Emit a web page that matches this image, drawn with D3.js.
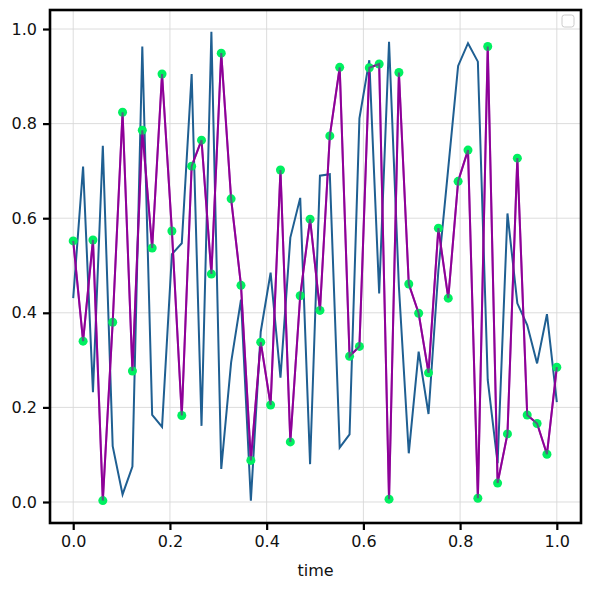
<!DOCTYPE html>
<html>
<head>
<meta charset="utf-8">
<script src="https://cdn.jsdelivr.net/npm/d3@7"></script>
<style>
  body { margin: 0; background: #fff; }
  svg { font-family: "DejaVu Sans", sans-serif; }
</style>
</head>
<body>
<div id="chart"></div>
<script>
// 50 samples on [0, 1]
var nPoints = 50;
var timeValues = d3.range(nPoints).map(function(i) { return i / (nPoints - 1); });

var blueValues = [0.431, 0.709, 0.232, 0.753, 0.118, 0.016, 0.075, 0.963, 0.184, 0.159,
                  0.524, 0.547, 0.905, 0.161, 0.994, 0.070, 0.295, 0.428, 0.003, 0.360,
                  0.485, 0.263, 0.559, 0.643, 0.080, 0.690, 0.693, 0.115, 0.143, 0.811,
                  0.934, 0.441, 0.973, 0.455, 0.103, 0.318, 0.186, 0.490, 0.706, 0.922,
                  0.970, 0.931, 0.258, 0.082, 0.610, 0.420, 0.374, 0.293, 0.397, 0.211];

var purpleValues = [0.552, 0.340, 0.554, 0.003, 0.380, 0.824, 0.277, 0.786, 0.537, 0.905,
                    0.573, 0.183, 0.710, 0.765, 0.482, 0.949, 0.641, 0.458, 0.088, 0.338,
                    0.205, 0.702, 0.127, 0.436, 0.598, 0.405, 0.774, 0.919, 0.308, 0.329,
                    0.918, 0.926, 0.006, 0.908, 0.461, 0.399, 0.273, 0.579, 0.431, 0.678,
                    0.744, 0.008, 0.963, 0.040, 0.144, 0.727, 0.184, 0.166, 0.101, 0.285];

var xTicks = [0.0, 0.2, 0.4, 0.6, 0.8, 1.0];
var yTicks = [0.0, 0.2, 0.4, 0.6, 0.8, 1.0];

var width = 590, height = 589;
var plotLeft = 50, plotRight = 581, plotTop = 10, plotBottom = 523;

var svg = d3.select("#chart").append("svg")
    .attr("width", width)
    .attr("height", height);

var x = d3.scaleLinear().domain([-0.048, 1.05]).range([plotLeft, plotRight]);
var y = d3.scaleLinear().domain([-0.0444, 1.0402]).range([plotBottom, plotTop]);

// grid
svg.append("g")
    .selectAll("line")
    .data(xTicks)
  .enter().append("line")
    .attr("x1", function(d) { return x(d); })
    .attr("x2", function(d) { return x(d); })
    .attr("y1", plotTop).attr("y2", plotBottom)
    .attr("stroke", "#d8d8d8").attr("stroke-width", 0.9);

svg.append("g")
    .selectAll("line")
    .data(yTicks)
  .enter().append("line")
    .attr("y1", function(d) { return y(d); })
    .attr("y2", function(d) { return y(d); })
    .attr("x1", plotLeft).attr("x2", plotRight)
    .attr("stroke", "#d8d8d8").attr("stroke-width", 0.9);

var line = d3.line()
    .x(function(d, i) { return x(timeValues[i]); })
    .y(function(d) { return y(d); });

svg.append("path")
    .datum(blueValues)
    .attr("d", line)
    .attr("fill", "none")
    .attr("stroke", "#1f5f92")
    .attr("stroke-width", 2);

svg.append("path")
    .datum(purpleValues)
    .attr("d", line)
    .attr("fill", "none")
    .attr("stroke", "#8e0098")
    .attr("stroke-width", 2);

svg.append("g")
    .selectAll("circle")
    .data(purpleValues)
  .enter().append("circle")
    .attr("cx", function(d, i) { return x(timeValues[i]); })
    .attr("cy", function(d) { return y(d); })
    .attr("r", 4.5)
    .attr("fill", "#00f060");

// purple again, faint, so it shows through the markers
svg.append("path")
    .datum(purpleValues)
    .attr("d", line)
    .attr("fill", "none")
    .attr("stroke", "#8e0098")
    .attr("stroke-width", 2)
    .attr("opacity", 0.6);

// axes
var xAxis = svg.append("g")
    .attr("transform", "translate(0," + plotBottom + ")")
    .call(d3.axisBottom(x).tickValues(xTicks).tickFormat(d3.format(".1f")).tickSize(7).tickPadding(6));
var yAxis = svg.append("g")
    .attr("transform", "translate(" + plotLeft + ",0)")
    .call(d3.axisLeft(y).tickValues(yTicks).tickFormat(d3.format(".1f")).tickSize(7).tickPadding(6));

[xAxis, yAxis].forEach(function(a) {
  a.select(".domain").remove();
  a.selectAll(".tick line").attr("stroke", "#000").attr("stroke-width", 2.2);
  a.selectAll(".tick text")
    .attr("fill", "#111")
    .style("font-family", "'DejaVu Sans', sans-serif")
    .style("font-size", "16px");
});

// frame
svg.append("rect")
    .attr("x", plotLeft).attr("y", plotTop)
    .attr("width", plotRight - plotLeft).attr("height", plotBottom - plotTop)
    .attr("fill", "none")
    .attr("stroke", "#000")
    .attr("stroke-width", 2.6);

// empty legend box
svg.append("rect")
    .attr("x", 562).attr("y", 15)
    .attr("width", 12).attr("height", 12)
    .attr("rx", 2.5)
    .attr("fill", "#fff")
    .attr("fill-opacity", 0.8)
    .attr("stroke", "#cccccc")
    .attr("stroke-width", 1);

svg.append("text")
    .attr("x", (plotLeft + plotRight) / 2)
    .attr("y", 576)
    .attr("text-anchor", "middle")
    .attr("fill", "#111")
    .style("font-size", "16px")
    .text("time");
</script>
</body>
</html>
